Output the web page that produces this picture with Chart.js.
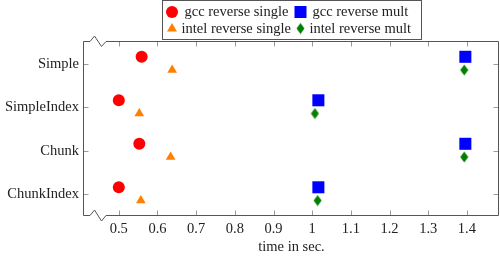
<!DOCTYPE html>
<html><head><meta charset="utf-8">
<script src="https://cdn.jsdelivr.net/npm/chart.js@4/dist/chart.umd.min.js"></script>
<style>html,body{margin:0;padding:0;background:#fff;overflow:hidden}</style>
</head><body>
<canvas id="c" width="500" height="256"></canvas>
<script>
const categories = ['Simple', 'SimpleIndex', 'Chunk', 'ChunkIndex'];
const seriesNames = ['gcc reverse single', 'gcc reverse mult', 'intel reverse single', 'intel reverse mult'];
const gccSingle = [0.559, 0.500, 0.553, 0.500];
const gccMult = [1.396, 1.016, 1.396, 1.016];
const intelSingle = [0.638, 0.553, 0.634, 0.557];
const intelMult = [1.393, 1.007, 1.393, 1.014];
const xTickValues = [0.5, 0.6, 0.7, 0.8, 0.9, 1.0, 1.1, 1.2, 1.3, 1.4];
const xTitle = 'time in sec.';

const upperShift = -0.16, lowerShift = 0.145;
const RED = '#ff0000', BLUE = '#0000ff', ORANGE = '#ff7f00', GREEN = '#008000';
const FONT = "'Liberation Serif', 'DejaVu Serif', serif";
const FS = 14.5;

function diamondCanvas(color) {
  const cv = document.createElement('canvas');
  cv.width = 9; cv.height = 12;
  const g = cv.getContext('2d');
  g.fillStyle = color;
  g.beginPath();
  g.moveTo(4.5, 0.5); g.lineTo(8.5, 6); g.lineTo(4.5, 11.5); g.lineTo(0.5, 6); g.closePath();
  g.fill();
  return cv;
}
const diamond = diamondCanvas(GREEN);

function pts(vals, shift) { return vals.map((v, i) => ({x: v, y: i + shift})); }

const datasets = [
  {label: seriesNames[0], data: pts(gccSingle, upperShift), pointStyle: 'circle', pointRadius: 6, backgroundColor: RED, borderColor: RED, borderWidth: 0},
  {label: seriesNames[1], data: pts(gccMult, upperShift), pointStyle: 'rect', pointRadius: 8.5, backgroundColor: BLUE, borderColor: BLUE, borderWidth: 0},
  {label: seriesNames[2], data: pts(intelSingle, lowerShift), pointStyle: 'triangle', pointRadius: 5.6, backgroundColor: ORANGE, borderColor: ORANGE, borderWidth: 0},
  {label: seriesNames[3], data: pts(intelMult, lowerShift), pointStyle: diamond, pointRadius: 6, backgroundColor: GREEN, borderColor: GREEN, borderWidth: 0}
];

const framePlugin = {
  id: 'frame',
  beforeDatasetsDraw(chart) {
    const {ctx, chartArea: a, scales} = chart;
    const L = Math.round(a.left) - 0.5, R = Math.round(a.right) - 0.5;
    const T = Math.round(a.top) - 0.5, B = Math.round(a.bottom) - 0.5;
    ctx.save();
    ctx.lineWidth = 1;
    ctx.strokeStyle = '#9a9a9a';
    ctx.beginPath();
    xTickValues.forEach(v => {
      const x = Math.round(scales.x.getPixelForValue(v)) + 0.5;
      ctx.moveTo(x, B); ctx.lineTo(x, B - 5);
      ctx.moveTo(x, T); ctx.lineTo(x, T + 5);
    });
    categories.forEach((c, i) => {
      const y = Math.round(scales.y.getPixelForValue(i)) + 0.5;
      ctx.moveTo(L, y); ctx.lineTo(L + 5, y);
      ctx.moveTo(R, y); ctx.lineTo(R - 5, y);
    });
    ctx.stroke();
    ctx.strokeStyle = '#555';
    ctx.beginPath();
    ctx.moveTo(L, B); ctx.lineTo(L, T);
    ctx.lineTo(L + 6.5, T); ctx.lineTo(L + 11, T - 5.5); ctx.lineTo(L + 18, T + 5); ctx.lineTo(L + 22.5, T);
    ctx.lineTo(R, T); ctx.lineTo(R, B);
    ctx.lineTo(L + 22.5, B); ctx.lineTo(L + 18, B + 5.5); ctx.lineTo(L + 11, B - 5.5); ctx.lineTo(L + 6.5, B);
    ctx.lineTo(L, B);
    ctx.stroke();
    ctx.restore();
  },
  afterDraw(chart) {
    const {ctx, chartArea: a} = chart;
    const cx = (a.left + a.right) / 2;
    const bw = 259, bh = 40;
    const bx = Math.round(cx - bw / 2) + 0.5, by = 0.5;
    ctx.save();
    ctx.fillStyle = '#fff';
    ctx.fillRect(bx, by, bw, bh);
    ctx.strokeStyle = '#555';
    ctx.lineWidth = 1;
    ctx.strokeRect(bx, by, bw, bh - 1);
    ctx.font = FS + 'px ' + FONT;
    ctx.textBaseline = 'middle';
    const cols = [bx + 9.5, bx + 138];
    const rows = [12, 28.5];
    const textOff = [[12.5, 12], [9.5, 9]];
    chart.data.datasets.forEach((ds, i) => {
      const col = i % 2, row = Math.floor(i / 2);
      const mx = cols[col], my = rows[row];
      ctx.fillStyle = ds.backgroundColor;
      ctx.beginPath();
      if (ds.pointStyle === 'circle') { ctx.arc(mx, my, 6, 0, Math.PI * 2); ctx.fill(); }
      else if (ds.pointStyle === 'rect') { ctx.fillRect(mx - 6, my - 6, 12, 12); }
      else if (ds.pointStyle === 'triangle') {
        ctx.moveTo(mx, my - 5.5); ctx.lineTo(mx + 5, my + 3); ctx.lineTo(mx - 5, my + 3); ctx.closePath(); ctx.fill();
      } else { ctx.drawImage(ds.pointStyle, mx - 4.5, my - 6); }
      ctx.fillStyle = '#222';
      ctx.fillText(ds.label, mx + textOff[row][col], my + 0.5);
    });
    ctx.restore();
  }
};

new Chart(document.getElementById('c'), {
  type: 'scatter',
  data: {datasets},
  options: {
    responsive: false,
    animation: false,
    devicePixelRatio: 1,
    layout: {autoPadding: false, padding: {top: 42, right: 1, bottom: 0, left: 0}},
    plugins: {legend: {display: false}, tooltip: {enabled: false}},
    scales: {
      x: {
        type: 'linear', min: 0.41, max: 1.483,
        grid: {display: false, drawTicks: false}, border: {display: false},
        afterBuildTicks: s => { s.ticks = xTickValues.map(v => ({value: v})); },
        afterFit: s => { s.height = 40; s.paddingLeft = 0; s.paddingRight = 0; },
        ticks: {padding: 4, color: '#222', font: {family: FONT, size: FS},
          callback: v => String(Math.round(v * 10) / 10)},
        title: {display: true, text: xTitle, color: '#222', padding: {top: 0, bottom: 0}, font: {family: FONT, size: FS}}
      },
      y: {
        type: 'linear', min: -0.5, max: 3.5, reverse: true,
        grid: {display: false, drawTicks: false}, border: {display: false},
        afterBuildTicks: s => { s.ticks = categories.map((c, i) => ({value: i})); },
        afterFit: s => { s.width = 84; s.paddingTop = 0; s.paddingBottom = 0; },
        ticks: {padding: 5, color: '#222', font: {family: FONT, size: FS},
          callback: v => categories[v]}
      }
    }
  },
  plugins: [framePlugin]
});
</script>
</body></html>
